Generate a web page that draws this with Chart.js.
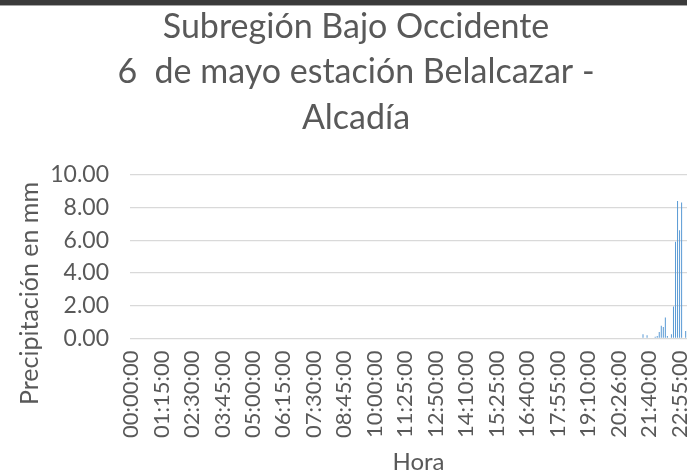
<!DOCTYPE html>
<html>
<head>
<meta charset="utf-8">
<script src="https://cdn.jsdelivr.net/npm/chart.js@4"></script>
<style>
    html, body { margin: 0; padding: 0; background: #fff; overflow: hidden; }
    #lluviaChart { position: absolute; left: 0; top: 0; }
    #banda { position: absolute; left: 0; top: 0; width: 687px; height: 5px; background: #3b3b3b; border-bottom: 1px solid #a6a6a6; z-index: 2; }
</style>
</head>
<body>
<div id="banda"></div>
<canvas id="lluviaChart" width="714" height="474"></canvas>
<script>
// etiquetas del eje X (una cada 15 registros)
const horaTicks = ['00:00:00', '01:15:00', '02:30:00', '03:45:00', '05:00:00', '06:15:00', '07:30:00',
    '08:45:00', '10:00:00', '11:25:00', '12:50:00', '14:10:00', '15:25:00', '16:40:00', '17:55:00',
    '19:10:00', '20:26:00', '21:40:00', '22:55:00'];
const TICK_CADA = 15;   // registros entre etiquetas
const N_REGISTROS = 284; // registros del día

// registros con lluvia (posición del registro y precipitación en mm), el resto es 0
const lluviaIdx = [252, 254, 258, 259, 260, 261, 262, 263, 264, 266, 267, 268, 269, 270, 271, 273];
const lluviaMm = [0.25, 0.20, 0.10, 0.15, 0.40, 0.78, 0.70, 1.28, 0.15, 0.25, 1.95, 5.90, 8.40, 6.60, 8.30, 0.45];

const yTicks = { min: 0, max: 10, step: 2 };

// categorías y serie completa
const horas = [];
const precipitacion = [];
for (let i = 0; i < N_REGISTROS; i++) {
    horas.push(i % TICK_CADA === 0 ? (horaTicks[i / TICK_CADA] || '') : '');
    precipitacion.push(0);
}
lluviaIdx.forEach((idx, k) => { precipitacion[idx] = lluviaMm[k]; });

const GRIS = '#595959';
const FUENTE = 'Lato';
const Y_TITULO = 'Precipitación en mm';

// título del eje Y algo más abajo, como en Excel (centrado con las etiquetas)
const tituloEjeY = {
    id: 'tituloEjeY',
    afterDraw(chart) {
        const ctx = chart.ctx;
        const y = chart.scales.y;
        const area = chart.chartArea;
        ctx.save();
        ctx.translate(y.left + 10 + 15, (area.top + area.bottom) / 2 + 37);
        ctx.rotate(-Math.PI / 2);
        ctx.fillStyle = GRIS;
        ctx.font = '25px ' + FUENTE;
        ctx.textAlign = 'center';
        ctx.textBaseline = 'middle';
        ctx.fillText(Y_TITULO, 0, 0);
        ctx.restore();
    }
};

new Chart(document.getElementById('lluviaChart'), {
    type: 'bar',
    data: {
        labels: horas,
        datasets: [{
            label: 'Precipitación',
            data: precipitacion,
            backgroundColor: '#5B9BD5',
            barPercentage: 0.5,
            categoryPercentage: 1.0
        }]
    },
    plugins: [tituloEjeY],
    options: {
        responsive: false,
        animation: false,
        layout: { padding: { left: 5, right: 7, top: 0, bottom: 0 } },
        plugins: {
            legend: { display: false },
            tooltip: { enabled: false },
            title: {
                display: true,
                text: ['Subregión Bajo Occidente', '6  de mayo estación Belalcazar -', 'Alcadía'],
                color: GRIS,
                font: { family: FUENTE, size: 34, weight: 'normal', lineHeight: 1.34 },
                padding: { top: 4, bottom: 34 }
            }
        },
        scales: {
            x: {
                grid: { display: false, drawTicks: false },
                border: { display: false },
                afterFit: function (scale) {
                    // sin márgenes extra por las etiquetas giradas
                    scale.paddingLeft = 0;
                    scale.paddingRight = 0;
                },
                ticks: {
                    autoSkip: false,
                    minRotation: 90,
                    maxRotation: 90,
                    padding: 12,
                    color: GRIS,
                    font: { family: FUENTE, size: 22 }
                },
                title: {
                    display: true,
                    text: 'Hora',
                    color: GRIS,
                    font: { family: FUENTE, size: 24, lineHeight: 1.0 },
                    padding: { top: 0, bottom: 0 }
                }
            },
            y: {
                min: yTicks.min,
                max: yTicks.max,
                afterFit: function (scale) {
                    scale.width = 125; // ancho fijo del eje (título + etiquetas)
                },
                grid: { color: '#d9d9d9', lineWidth: 1.3, drawTicks: false },
                border: { display: false },
                ticks: {
                    autoSkip: false,
                    stepSize: yTicks.step,
                    padding: 21,
                    color: GRIS,
                    font: { family: FUENTE, size: 23 },
                    callback: function (val) {
                        return val.toFixed(2);
                    }
                },
                title: {
                    display: true,
                    text: Y_TITULO,
                    color: 'rgba(0,0,0,0)',
                    font: { family: FUENTE, size: 25 },
                    padding: { top: 10, bottom: 6 }
                }
            }
        }
    }
});
</script>
</body>
</html>
